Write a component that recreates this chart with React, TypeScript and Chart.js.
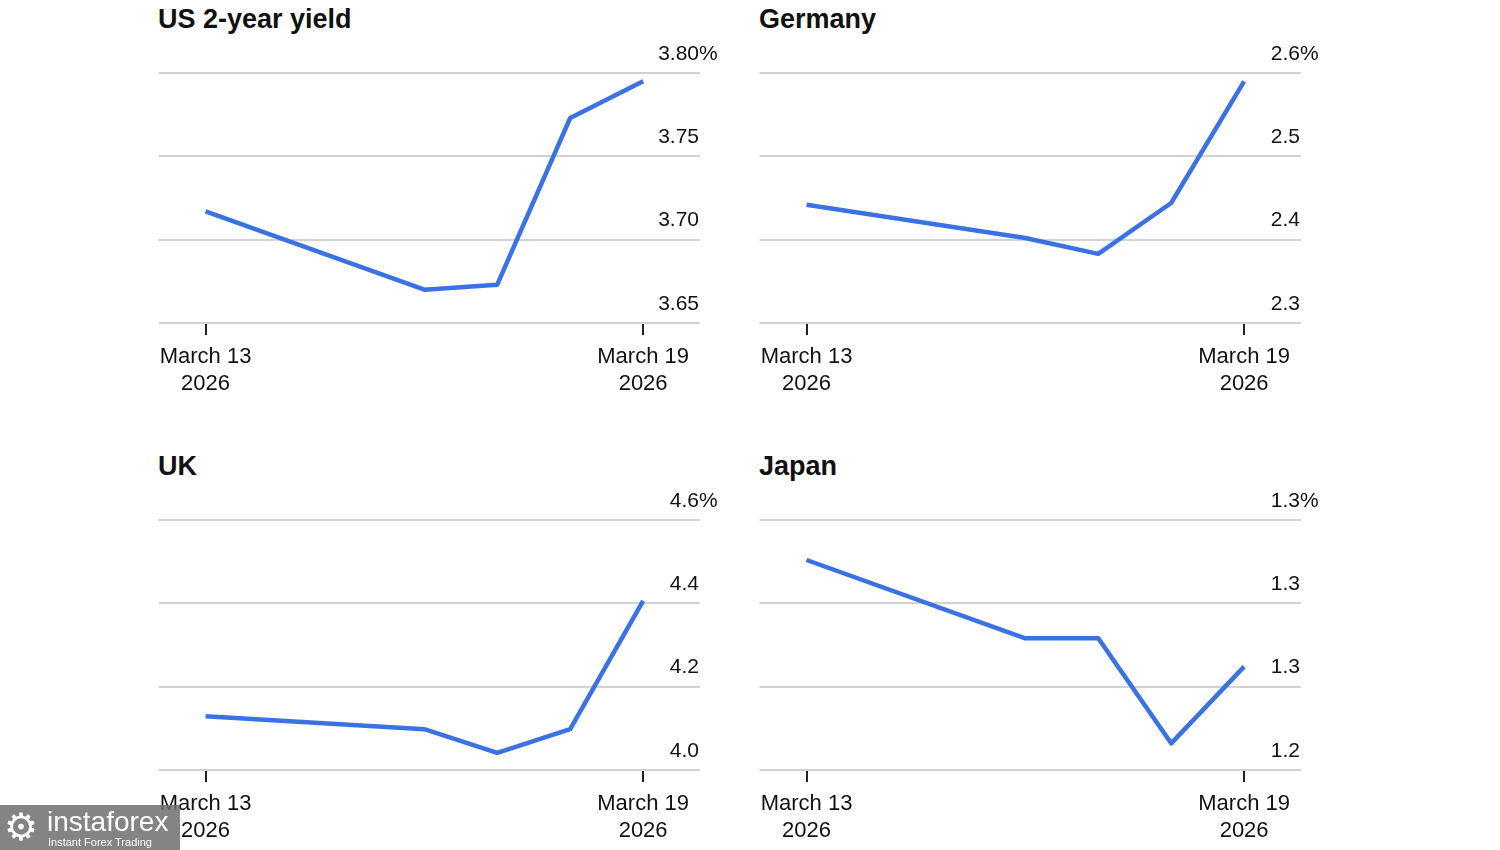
import React, { useEffect, useRef } from "react";
import { Chart, registerables } from "chart.js";

Chart.register(...registerables);

const FONT = '"Liberation Sans", Arial, Helvetica, sans-serif';

// Trading days (day of March 2026)
const days = [13, 16, 17, 18, 19];

const usValues = [3.717, 3.67, 3.673, 3.773, 3.795];
const deValues = [2.442, 2.402, 2.383, 2.444, 2.59];
const ukValues = [4.129, 4.098, 4.041, 4.098, 4.406];
const jpValues = [1.326, 1.279, 1.279, 1.216, 1.262];

const usTicks = [3.65, 3.7, 3.75, 3.8];
const usTickLabels = ["3.65", "3.70", "3.75", "3.80%"];
const deTicks = [2.3, 2.4, 2.5, 2.6];
const deTickLabels = ["2.3", "2.4", "2.5", "2.6%"];
const ukTicks = [4.0, 4.2, 4.4, 4.6];
const ukTickLabels = ["4.0", "4.2", "4.4", "4.6%"];
const jpTicks = [1.2, 1.25, 1.3, 1.35];
const jpTickLabels = ["1.2", "1.3", "1.3", "1.3%"];

const xTickValues = [13, 19];
const xTickLabels = [
  ["March 13", "2026"],
  ["March 19", "2026"],
];
const xMin = 12.356;
const xMax = 19.78;

type PanelProps = {
  title: string;
  values: number[];
  yTicks: number[];
  yLabels: string[];
  left: number;
  top: number;
};

function Panel({ title, values, yTicks, yLabels, left, top }: PanelProps) {
  const ref = useRef<HTMLCanvasElement | null>(null);
  useEffect(() => {
    if (!ref.current) return;
    const yLabelPlugin = {
      id: "yLabelPlugin",
      afterDraw(chart: any) {
        const { ctx, chartArea } = chart;
        const scale = chart.scales.y;
        ctx.save();
        ctx.font = `21px ${FONT}`;
        ctx.fillStyle = "#111";
        ctx.textBaseline = "middle";
        yTicks.forEach((v, i) => {
          const py = scale.getPixelForValue(v) - 19;
          let label = yLabels[i];
          const right = chartArea.right;
          if (label.endsWith("%")) {
            label = label.slice(0, -1);
            ctx.textAlign = "left";
            ctx.fillText("%", right - 1, py);
          }
          ctx.textAlign = "right";
          ctx.fillText(label, right - 1, py);
        });
        ctx.restore();
      },
    };
    const chart = new Chart(ref.current, {
      type: "line",
      data: {
        datasets: [
          {
            data: days.map((d, i) => ({ x: d, y: values[i] })),
            borderColor: "#3a72e3",
            borderWidth: 4.5,
            borderJoinStyle: "round",
            pointRadius: 0,
            tension: 0,
            fill: false,
          },
        ],
      },
      options: {
        animation: false,
        responsive: true,
        maintainAspectRatio: false,
        layout: { padding: { left: 8, right: 50, top: 73, bottom: 0 } },
        plugins: {
          legend: { display: false },
          tooltip: { enabled: false },
          title: { display: false },
        },
        scales: {
          x: {
            type: "linear",
            min: xMin,
            max: xMax,
            afterBuildTicks: (s: any) => {
              s.ticks = xTickValues.map((v) => ({ value: v }));
            },
            afterFit: (s: any) => {
              s.height = 87;
            },
            border: { display: false },
            grid: {
              drawOnChartArea: false,
              drawTicks: true,
              tickLength: 12,
              color: "#222",
              lineWidth: 2,
            },
            ticks: {
              padding: 9,
              maxRotation: 0,
              autoSkip: false,
              color: "#111",
              font: { family: FONT, size: 22, lineHeight: 1.2 },
              callback: (v: any) => {
                const idx = xTickValues.indexOf(Number(v));
                return idx >= 0 ? xTickLabels[idx] : "";
              },
            },
          },
          y: {
            position: "right",
            min: yTicks[0],
            max: yTicks[yTicks.length - 1],
            afterBuildTicks: (s: any) => {
              s.ticks = yTicks.map((v) => ({ value: v }));
            },
            afterFit: (s: any) => {
              s.width = 0;
            },
            border: { display: false },
            grid: {
              drawTicks: false,
              color: "#d2d2d2",
              lineWidth: 2,
            },
            ticks: { display: false },
          },
        },
      },
      plugins: [yLabelPlugin],
    } as any);
    return () => chart.destroy();
  }, [values, yTicks, yLabels]);

  return (
    <>
      <div
        style={{
          position: "absolute",
          left: left + 8,
          top: top + 6,
          fontFamily: FONT,
          fontWeight: "bold",
          fontSize: 27,
          lineHeight: "27px",
          color: "#111",
          whiteSpace: "nowrap",
        }}
      >
        {title}
      </div>
      <div
        style={{
          position: "absolute",
          left,
          top,
          width: 600,
          height: 410,
        }}
      >
        <canvas ref={ref} />
      </div>
    </>
  );
}

export default function App() {
  return (
    <div
      style={{
        position: "fixed",
        left: 0,
        top: 0,
        width: 1500,
        height: 850,
        background: "#fff",
        overflow: "hidden",
      }}
    >
      <Panel title="US 2-year yield" values={usValues} yTicks={usTicks} yLabels={usTickLabels} left={150} top={0} />
      <Panel title="Germany" values={deValues} yTicks={deTicks} yLabels={deTickLabels} left={751} top={0} />
      <Panel title="UK" values={ukValues} yTicks={ukTicks} yLabels={ukTickLabels} left={150} top={447} />
      <Panel title="Japan" values={jpValues} yTicks={jpTicks} yLabels={jpTickLabels} left={751} top={447} />
      <div
        style={{
          position: "absolute",
          left: 0,
          top: 805,
          width: 180,
          height: 45,
          background: "rgba(110,110,110,0.85)",
          color: "#fff",
          fontFamily: FONT,
        }}
      >
        <div style={{ position: "absolute", left: 4, top: 1, fontSize: 38, lineHeight: "42px" }}>⚙</div>
        <div style={{ position: "absolute", left: 47, top: 3, fontSize: 28, lineHeight: "28px" }}>
          instaforex
        </div>
        <div style={{ position: "absolute", left: 48, top: 31, fontSize: 11, lineHeight: "12px" }}>
          Instant Forex Trading
        </div>
      </div>
    </div>
  );
}
